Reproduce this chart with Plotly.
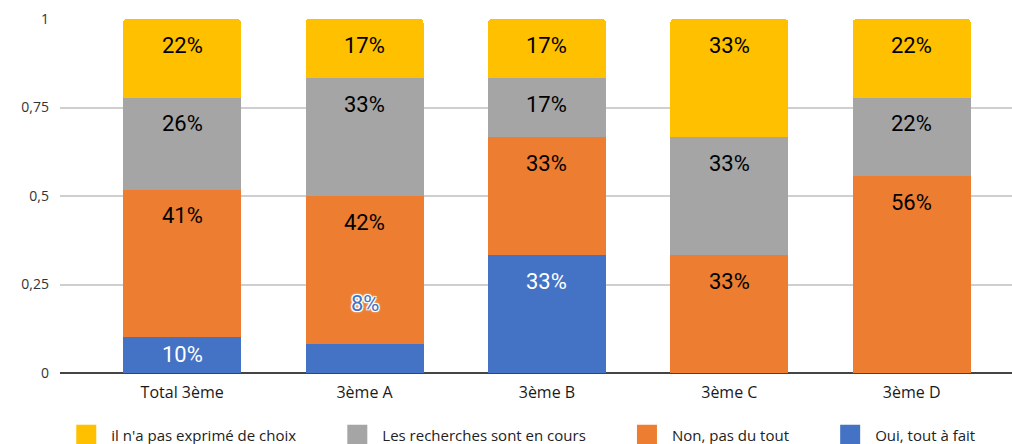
import plotly.graph_objects as go

classes = ['Total 3ème', '3ème A', '3ème B', '3ème C', '3ème D']

# parts de reponses (0..1)
oui = [0.103, 0.083, 0.333, 0.0, 0.0]
non = [0.414, 0.417, 0.333, 0.333, 0.556]
recherches = [0.261, 0.333, 0.167, 0.333, 0.222]
pas_choix = [0.222, 0.167, 0.167, 0.334, 0.222]

y_ticks = [0, 0.25, 0.5, 0.75, 1]

series = [
    ('Oui, tout à fait', oui, '#4472C4', 'white'),
    ('Non, pas du tout', non, '#ED7D31', 'black'),
    ('Les recherches sont en cours', recherches, '#A5A5A5', 'black'),
    ("il n'a pas exprimé de choix", pas_choix, '#FFC000', 'black'),
]

PX = 354  # hauteur de la zone de trace
PAD = '&nbsp;' * 8  # espace entre les entrees de legende

fig = go.Figure()
base = [0.0] * len(classes)
for k, (name, vals, col, tcol) in enumerate(series):
    fig.add_trace(go.Bar(
        x=classes, y=vals, name=name, showlegend=False,
        marker=dict(color=col, line=dict(width=0)),
        hoverinfo='skip',
    ))
    # carre de legende plus grand que celui des barres
    fig.add_trace(go.Scatter(
        x=[None], y=[None], name=name + (PAD if k > 0 else ''), mode='markers',
        marker=dict(symbol='square', size=16, color=col, line=dict(color=col, width=4)),
    ))
    # etiquettes en haut de chaque segment
    for i, (c, v) in enumerate(zip(classes, vals)):
        top = base[i] + v
        if v >= 0.095:
            fig.add_annotation(
                x=c, y=top, yshift=-min(26, v * PX / 2), yanchor='middle',
                showarrow=False, text='%d%%' % round(v * 100),
                font=dict(family='Roboto', size=22, color=tcol),
            )
        elif v > 0:
            # petite barre : etiquette au-dessus, avec halo blanc
            fig.add_annotation(
                x=c, y=top, yshift=40, yanchor='middle',
                showarrow=False, text='%d%%' % round(v * 100),
                font=dict(family='Roboto', size=22, color=col,
                          shadow='white 1px 1px 0px, white -1px -1px 0px, white 1px -1px 0px, white -1px 1px 0px, white 0 0 3px, white 0 0 3px'),
            )
        base[i] = top

fig.update_layout(
    barmode='stack',
    bargap=0.353,
    barcornerradius=4,
    width=1012, height=444,
    margin=dict(l=60, r=0, t=19, b=71, autoexpand=False),
    paper_bgcolor='white', plot_bgcolor='white',
    separators=', ',
    xaxis=dict(
        range=[-0.67, 4.55],
        tickfont=dict(family='Open Sans', size=16, color='#1a1a1a'),
        showgrid=False, showline=False, ticks='',
        ticklabelstandoff=8,
    ),
    yaxis=dict(
        range=[0, 1], tickvals=y_ticks,
        tickfont=dict(family='Open Sans', size=14, color='#333'),
        gridcolor='#cfcfcf', gridwidth=1.5,
        zeroline=True, zerolinecolor='#444', zerolinewidth=1.5,
        ticklabelstandoff=10,
    ),
    legend=dict(
        orientation='h', traceorder='reversed',
        x=0.484, xanchor='center', y=-0.175, yanchor='middle',
        font=dict(family='Open Sans', size=15, color='#222'),
        itemsizing='trace', itemwidth=40,
    ),
)

fig.write_html('out.html', config={'displayModeBar': False},
               post_script="document.body.style.margin='0';")
